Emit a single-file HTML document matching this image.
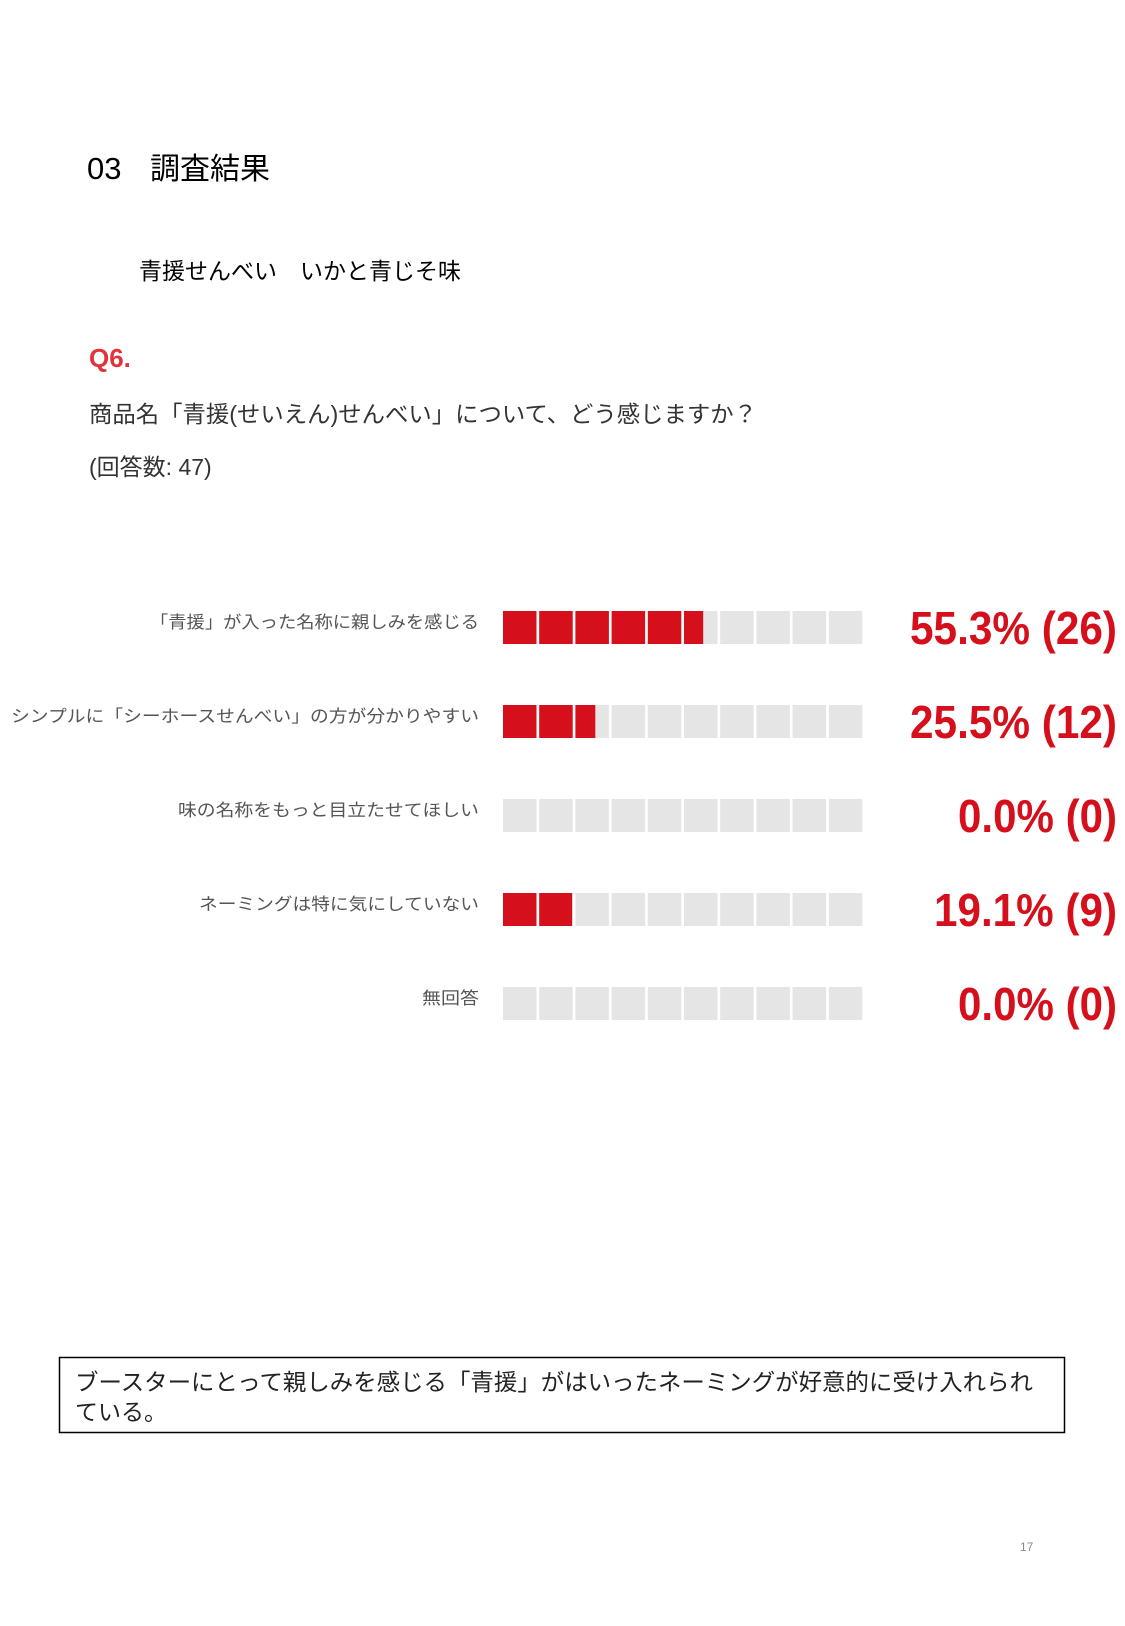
<!DOCTYPE html>
<html><head><meta charset="utf-8"><style>
html,body{margin:0;padding:0;background:#fff;}
svg{display:block;}
text{font-family:"Liberation Sans","Noto Sans CJK JP",sans-serif;}
</style></head><body>
<svg width="1125" height="1626" viewBox="0 0 1125 1626" xmlns="http://www.w3.org/2000/svg">
<rect width="1125" height="1626" fill="#fff"/>
<text x="87" y="179" font-size="31" fill="#000">03</text>
<text x="150" y="179" font-size="30" fill="#000">調査結果</text>
<text x="139" y="279" font-size="23" fill="#000">青援せんべい　いかと青じそ味</text>
<text x="89" y="367" font-size="26" font-weight="bold" fill="#e0343a">Q6.</text>
<text x="89" y="422" font-size="23" fill="#333" textLength="668" lengthAdjust="spacingAndGlyphs">商品名「青援(せいえん)せんべい」について、どう感じますか？</text>
<text x="89" y="475" font-size="23" fill="#333">(回答数: 47)</text>

<g font-size="17" fill="#555" text-anchor="end">
<text x="479" y="628" textLength="329" lengthAdjust="spacingAndGlyphs">「青援」が入った名称に親しみを感じる</text>
<text x="479" y="722" textLength="468" lengthAdjust="spacingAndGlyphs">シンプルに「シーホースせんべい」の方が分かりやすい</text>
<text x="479" y="816" textLength="301" lengthAdjust="spacingAndGlyphs">味の名称をもっと目立たせてほしい</text>
<text x="479" y="910" textLength="280" lengthAdjust="spacingAndGlyphs">ネーミングは特に気にしていない</text>
<text x="479" y="1004" textLength="57" lengthAdjust="spacingAndGlyphs">無回答</text>
</g>

<g id="bars"></g>

<g font-size="46" font-weight="bold" fill="#d50f1c" text-anchor="end">
<text x="1117" y="644" textLength="207" lengthAdjust="spacingAndGlyphs">55.3% (26)</text>
<text x="1117" y="738" textLength="207" lengthAdjust="spacingAndGlyphs">25.5% (12)</text>
<text x="1117" y="832" textLength="159" lengthAdjust="spacingAndGlyphs">0.0% (0)</text>
<text x="1117" y="926" textLength="183" lengthAdjust="spacingAndGlyphs">19.1% (9)</text>
<text x="1117" y="1020" textLength="159" lengthAdjust="spacingAndGlyphs">0.0% (0)</text>
</g>

<rect x="59.5" y="1357.5" width="1005" height="75" fill="none" stroke="#000" stroke-width="1.5"/>
<text x="75" y="1390" font-size="23" fill="#222" textLength="958" lengthAdjust="spacingAndGlyphs">ブースターにとって親しみを感じる「青援」がはいったネーミングが好意的に受け入れられ</text>
<text x="75" y="1420" font-size="23" fill="#222">ている。</text>
<text x="1020" y="1551" font-size="12" fill="#888">17</text>

<script>
(function(){
var g=document.getElementById('bars');var ns='http://www.w3.org/2000/svg';
var vals=[0.553,0.255,0,0.191,0];var x0=503,w=33.5,p=36.2,h=33;
for(var r=0;r<5;r++){var y=611+r*94;var fillEnd=x0+vals[r]*10*p;
for(var i=0;i<10;i++){var x=x0+i*p;
var bg=document.createElementNS(ns,'rect');bg.setAttribute('x',x);bg.setAttribute('y',y);bg.setAttribute('width',w);bg.setAttribute('height',h);bg.setAttribute('fill','#e5e5e5');g.appendChild(bg);
var fw=Math.min(w,fillEnd-x);if(fw>0){var fr=document.createElementNS(ns,'rect');fr.setAttribute('x',x);fr.setAttribute('y',y);fr.setAttribute('width',fw);fr.setAttribute('height',h);fr.setAttribute('fill','#d50f1c');g.appendChild(fr);}
}}
})();
</script>
</svg>
</body></html>
